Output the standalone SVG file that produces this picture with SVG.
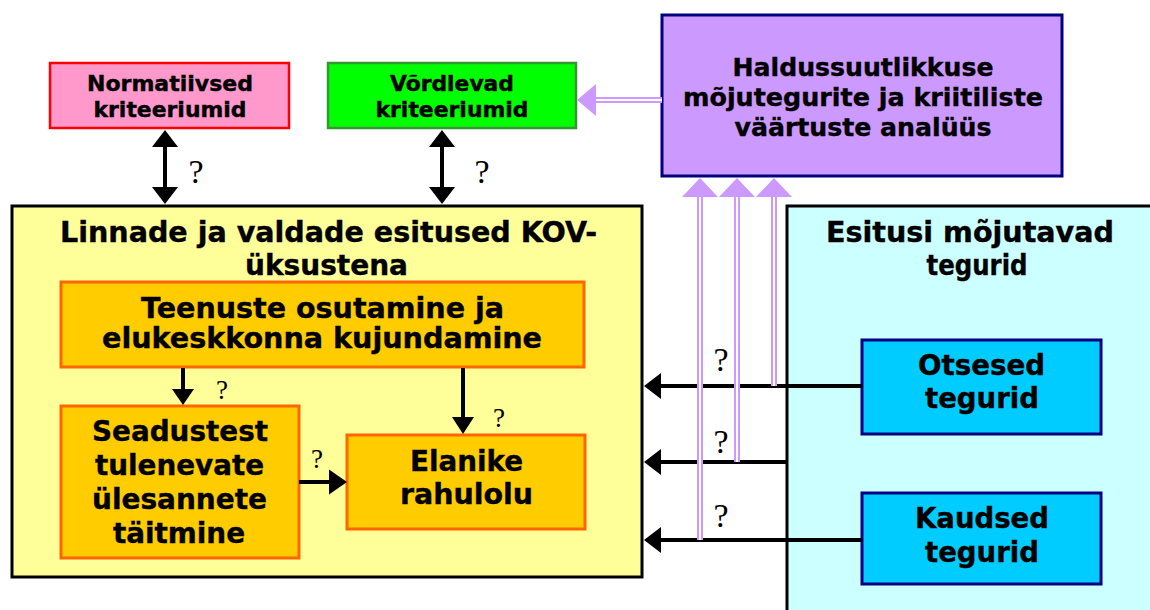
<svg xmlns="http://www.w3.org/2000/svg" width="1150" height="610" viewBox="0 0 1150 610">
<style>
.t{font-family:"DejaVu Sans",Verdana,sans-serif;font-weight:bold;fill:#000;stroke:#000;stroke-width:0.4;text-anchor:middle}
.q{font-family:"Liberation Serif","Times New Roman",serif;fill:#000;font-size:34px;text-anchor:middle}
.qs{font-family:"Liberation Serif","Times New Roman",serif;fill:#000;font-size:27px;text-anchor:middle}
.blk{stroke:#000;stroke-width:4;fill:none}
.pu{stroke:#CC99FF;stroke-width:6;fill:none}
.pw{stroke:#fff;stroke-width:2;fill:none}
.ph{fill:#CC99FF}
.bh{fill:#000}
</style>
<rect width="1150" height="610" fill="#fff"/>
<g id="yellow">
<rect x="12" y="206" width="630" height="371" fill="#FFFF99" stroke="#000" stroke-width="3"/>
<text class="t" font-size="28.5" x="328.5" y="242" textLength="537" lengthAdjust="spacingAndGlyphs">Linnade ja valdade esitused KOV-</text>
<text class="t" font-size="28.5" x="326.5" y="275" textLength="163" lengthAdjust="spacingAndGlyphs">üksustena</text>
</g>
<g id="cyan">
<rect x="787" y="206" width="380" height="420" fill="#CCFFFF" stroke="#000" stroke-width="3"/>
<text class="t" font-size="28" x="970" y="242" textLength="288" lengthAdjust="spacingAndGlyphs">Esitusi mõjutavad</text>
<text class="t" font-size="28" x="977" y="275" textLength="101" lengthAdjust="spacingAndGlyphs">tegurid</text>
</g>
<g id="normatiivsed">
<rect x="50" y="63" width="239" height="65" fill="#FF99CC" stroke="#FF0000" stroke-width="2.5"/>
<text class="t" font-size="21" x="170" y="91" textLength="166" lengthAdjust="spacingAndGlyphs">Normatiivsed</text>
<text class="t" font-size="21" x="170" y="117" textLength="153" lengthAdjust="spacingAndGlyphs">kriteeriumid</text>
</g>
<g id="vordlevad">
<rect x="328" y="63" width="248" height="65" fill="#00FF00" stroke="#339933" stroke-width="2.5"/>
<text class="t" font-size="21" x="452" y="91" textLength="124" lengthAdjust="spacingAndGlyphs">Võrdlevad</text>
<text class="t" font-size="21" x="452" y="117" textLength="153" lengthAdjust="spacingAndGlyphs">kriteeriumid</text>
</g>
<g id="analuus">
<rect x="662" y="15" width="400" height="161" fill="#CC99FF" stroke="#000080" stroke-width="3"/>
<text class="t" font-size="25" x="863" y="76" textLength="261" lengthAdjust="spacingAndGlyphs">Haldussuutlikkuse</text>
<text class="t" font-size="25" x="863" y="106" textLength="360" lengthAdjust="spacingAndGlyphs">mõjutegurite ja kriitiliste</text>
<text class="t" font-size="25" x="863" y="136" textLength="257" lengthAdjust="spacingAndGlyphs">väärtuste analüüs</text>
</g>
<g id="teenuste">
<rect x="61" y="282" width="523" height="85" fill="#FFCC00" stroke="#FF6600" stroke-width="3"/>
<text class="t" font-size="28" x="322.5" y="318" textLength="363" lengthAdjust="spacingAndGlyphs">Teenuste osutamine ja</text>
<text class="t" font-size="28" x="322" y="348" textLength="440" lengthAdjust="spacingAndGlyphs">elukeskkonna kujundamine</text>
</g>
<g id="seadustest">
<rect x="61" y="406" width="238" height="152" fill="#FFCC00" stroke="#FF6600" stroke-width="3"/>
<text class="t" font-size="28" x="180" y="441" textLength="176" lengthAdjust="spacingAndGlyphs">Seadustest</text>
<text class="t" font-size="28" x="179.5" y="475" textLength="169" lengthAdjust="spacingAndGlyphs">tulenevate</text>
<text class="t" font-size="28" x="179.5" y="509" textLength="175" lengthAdjust="spacingAndGlyphs">ülesannete</text>
<text class="t" font-size="28" x="179" y="543" textLength="132" lengthAdjust="spacingAndGlyphs">täitmine</text>
</g>
<g id="elanike">
<rect x="347" y="435" width="238" height="94" fill="#FFCC00" stroke="#FF6600" stroke-width="3"/>
<text class="t" font-size="28" x="466.5" y="471" textLength="113" lengthAdjust="spacingAndGlyphs">Elanike</text>
<text class="t" font-size="28" x="466.5" y="504" textLength="133" lengthAdjust="spacingAndGlyphs">rahulolu</text>
</g>
<g id="otsesed">
<rect x="862" y="340" width="239" height="94" fill="#00CCFF" stroke="#000080" stroke-width="3"/>
<text class="t" font-size="28" x="981.5" y="375" textLength="127" lengthAdjust="spacingAndGlyphs">Otsesed</text>
<text class="t" font-size="28" x="982" y="408" textLength="114" lengthAdjust="spacingAndGlyphs">tegurid</text>
</g>
<g id="kaudsed">
<rect x="862" y="493" width="239" height="91" fill="#00CCFF" stroke="#000080" stroke-width="3"/>
<text class="t" font-size="28" x="982" y="528" textLength="134" lengthAdjust="spacingAndGlyphs">Kaudsed</text>
<text class="t" font-size="28" x="982" y="562" textLength="114" lengthAdjust="spacingAndGlyphs">tegurid</text>
</g>
<g id="connectors">
<line class="blk" x1="165" y1="146" x2="165" y2="188"/>
<polygon class="bh" points="165,130 152,147 178,147"/>
<polygon class="bh" points="165,204 152,187 178,187"/>
<line class="blk" x1="442" y1="146" x2="442" y2="188"/>
<polygon class="bh" points="442,130 429,147 455,147"/>
<polygon class="bh" points="442,204 429,187 455,187"/>
<line class="blk" x1="183" y1="368" x2="183" y2="392"/>
<polygon class="bh" points="183,405 172,389 194,389"/>
<line class="blk" x1="463" y1="368" x2="463" y2="420"/>
<polygon class="bh" points="463,434 452,417 474,417"/>
<line class="blk" x1="299" y1="482" x2="332" y2="482"/>
<polygon class="bh" points="347,482 329,469.5 329,494.5"/>
<line class="blk" x1="862" y1="386" x2="658" y2="386"/>
<polygon class="bh" points="644,386 661,373 661,399"/>
<line class="blk" x1="787" y1="462" x2="658" y2="462"/>
<polygon class="bh" points="644,462 661,449 661,475"/>
<line class="blk" x1="862" y1="540" x2="658" y2="540"/>
<polygon class="bh" points="644,540 661,527 661,553"/>
<line class="pu" x1="662" y1="100" x2="594" y2="100"/>
<line class="pw" x1="662" y1="100" x2="594" y2="100"/>
<polygon class="ph" points="577,100 596,84 596,116"/>
<line class="pu" x1="700" y1="540" x2="700" y2="195"/>
<line class="pw" x1="700" y1="540" x2="700" y2="195"/>
<polygon class="ph" points="700,178 682,197 718,197"/>
<line class="pu" x1="737" y1="462" x2="737" y2="195"/>
<line class="pw" x1="737" y1="462" x2="737" y2="195"/>
<polygon class="ph" points="737,178 719,197 755,197"/>
<line class="pu" x1="774" y1="386" x2="774" y2="195"/>
<line class="pw" x1="774" y1="386" x2="774" y2="195"/>
<polygon class="ph" points="774,178 756,197 792,197"/>
</g>
<g id="labels">
<text class="q" x="196" y="183">?</text>
<text class="q" x="482" y="183">?</text>
<text class="q" x="721" y="371">?</text>
<text class="q" x="721" y="453">?</text>
<text class="q" x="721" y="527">?</text>
<text class="qs" x="222" y="399">?</text>
<text class="qs" x="499" y="427">?</text>
<text class="qs" x="317" y="468">?</text>
</g>
</svg>
